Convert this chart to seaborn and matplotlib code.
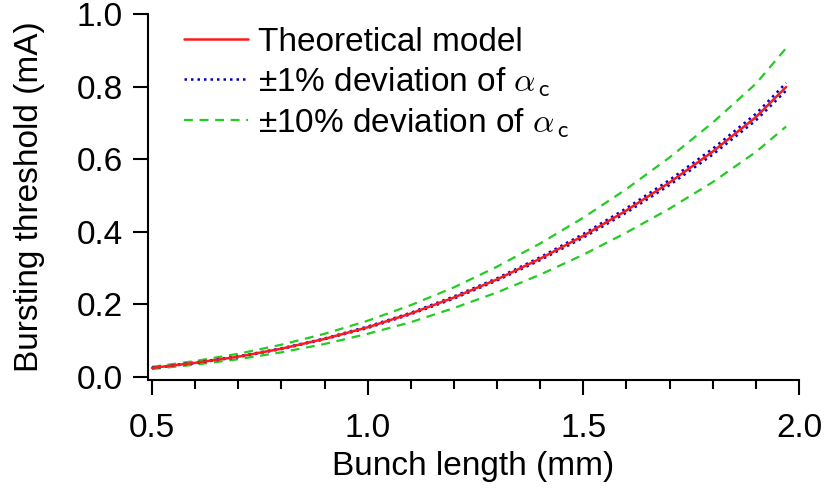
import numpy as np
import pandas as pd
import matplotlib
matplotlib.use('Agg')
import matplotlib.pyplot as plt
import seaborn as sns
from matplotlib.ticker import MultipleLocator

# values
bunch_length = [0.5, 0.6, 0.7, 0.8, 0.9, 1.0, 1.1, 1.2, 1.3, 1.4, 1.5,
                1.6, 1.7, 1.8, 1.9, 1.97]
theory = [0.025, 0.039, 0.056, 0.078, 0.105, 0.137, 0.175, 0.219, 0.269,
          0.326, 0.389, 0.459, 0.536, 0.621, 0.716, 0.799]
plus1 = [0.025, 0.040, 0.057, 0.079, 0.106, 0.139, 0.177, 0.222, 0.272,
         0.330, 0.394, 0.465, 0.543, 0.629, 0.725, 0.810]
minus1 = [0.025, 0.038, 0.055, 0.077, 0.104, 0.135, 0.173, 0.216, 0.266,
          0.322, 0.384, 0.453, 0.529, 0.613, 0.707, 0.789]
plus10 = [0.028, 0.044, 0.064, 0.089, 0.119, 0.155, 0.198, 0.247, 0.304,
          0.368, 0.439, 0.518, 0.605, 0.701, 0.808, 0.906]
minus10 = [0.022, 0.034, 0.049, 0.068, 0.091, 0.119, 0.151, 0.190, 0.233,
           0.282, 0.337, 0.398, 0.464, 0.537, 0.620, 0.690]

df = pd.DataFrame({'x': bunch_length, 'theory': theory,
                   'plus1': plus1, 'minus1': minus1,
                   'plus10': plus10, 'minus10': minus10})

sns.set_style('ticks')
plt.rcParams['font.family'] = ['Liberation Sans', 'DejaVu Sans']
plt.rcParams['mathtext.fontset'] = 'cm'
plt.rcParams['text.color'] = 'black'
plt.rcParams['axes.labelcolor'] = 'black'
plt.rcParams['xtick.color'] = 'black'
plt.rcParams['ytick.color'] = 'black'

red = '#ff1a1a'
blue = '#0000cc'
green = '#22cc22'

fig = plt.figure(figsize=(8.24, 4.92), dpi=100)
ax = fig.add_axes([0.1796, 0.2276, 0.9697 - 0.1796, 0.9715 - 0.2276])

lab_a = r'±10% deviation of $\alpha_{\,\mathsf{c}}$'
lab_b = r'±1% deviation of $\alpha_{\,\mathsf{c}}$'

sns.lineplot(data=df, x='x', y='plus10', ax=ax, color=green, lw=1.6,
             label=lab_a)
sns.lineplot(data=df, x='x', y='minus10', ax=ax, color=green, lw=1.6)
sns.lineplot(data=df, x='x', y='plus1', ax=ax, color=blue, lw=1.8,
             label=lab_b)
sns.lineplot(data=df, x='x', y='minus1', ax=ax, color=blue, lw=1.8)
sns.lineplot(data=df, x='x', y='theory', ax=ax, color=red, lw=1.8,
             label='Theoretical model')

lines = ax.get_lines()
for ln in lines[0:2]:
    ln.set_dashes((4, 3))
for ln in lines[2:4]:
    ln.set_dashes((1, 1.6))

ax.set_xlim(0.4907, 2.0)
ax.set_ylim(-0.0083, 1.0)
ax.xaxis.set_minor_locator(MultipleLocator(0.1))
ax.set_xticks([0.5, 1.0, 1.5, 2.0])
ax.set_xticklabels(['0.5', '1.0', '1.5', '2.0'])
ax.set_yticks([0.0, 0.2, 0.4, 0.6, 0.8, 1.0])
ax.set_yticklabels(['0.0', '0.2', '0.4', '0.6', '0.8', '1.0'])

for s in ['top', 'right']:
    ax.spines[s].set_visible(False)
for s in ['left', 'bottom']:
    ax.spines[s].set_linewidth(1.5)
    ax.spines[s].set_color('black')

ax.tick_params(axis='both', which='major', length=11, width=1.5,
               labelsize=24, pad=7, direction='out')
ax.tick_params(axis='x', which='minor', length=6.5, width=1.5,
               direction='out')
ax.tick_params(axis='x', which='major', pad=13)

ax.set_xlabel('Bunch length (mm)', fontsize=24, labelpad=5)
ax.set_ylabel('Bursting threshold (mA)', fontsize=24, labelpad=23)

handles, labels = ax.get_legend_handles_labels()
order = [labels.index('Theoretical model'), labels.index(lab_b),
         labels.index(lab_a)]
ax.legend([handles[i] for i in order], [labels[i] for i in order],
          loc='upper left', bbox_to_anchor=(0.025, 1.02), frameon=False,
          fontsize=24, handlelength=1.9, handletextpad=0.3,
          labelspacing=0.22, borderaxespad=0.2)

fig.savefig('out.png', dpi=100)
